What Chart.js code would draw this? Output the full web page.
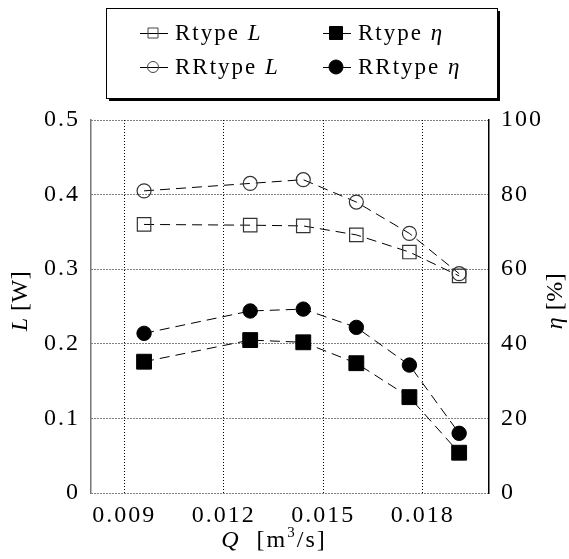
<!DOCTYPE html>
<html>
<head>
<meta charset="utf-8">
<script src="https://cdn.jsdelivr.net/npm/chart.js@4"></script>
<style>
html,body{margin:0;padding:0;background:#fff;}
#wrap{width:569px;height:559px;position:relative;}
</style>
</head>
<body>
<div id="wrap"><canvas id="c"></canvas></div>
<script>
// ---- data ----
const flowQ      = [0.0096, 0.0128, 0.0144, 0.0160, 0.0176, 0.0191];
const rtypeL     = [0.360, 0.359, 0.358, 0.346, 0.323, 0.291];
const rrtypeL    = [0.405, 0.415, 0.420, 0.390, 0.348, 0.294];
const rtypeEta   = [35.2, 41.0, 40.4, 34.8, 25.7, 10.8];
const rrtypeEta  = [42.8, 48.8, 49.3, 44.4, 34.3, 16.0];
const xTicks     = [0.009, 0.012, 0.015, 0.018];
const lTicks     = [0, 0.1, 0.2, 0.3, 0.4, 0.5];
const etaTicks   = [0, 20, 40, 60, 80, 100];

const SERIF = '"Liberation Serif", "Times New Roman", serif';
const pts = arr => flowQ.map((q,i)=>({x:q, y:arr[i]}));

function drawRuns(ctx, runs, x, y, align) {
  let total = 0;
  runs.forEach(r => { ctx.font = (r.italic?'italic ':'') + r.size + 'px ' + SERIF; r.w = ctx.measureText(r.t).width; total += r.w; });
  let cx = align === 'center' ? x - total/2 : x;
  runs.forEach(r => { ctx.font = (r.italic?'italic ':'') + r.size + 'px ' + SERIF; ctx.fillText(r.t, cx, y + (r.dy||0)); cx += r.w; });
}

const spacing = {
  id: 'spacing',
  beforeDraw(chart) { chart.ctx.letterSpacing = '2px'; },
  afterDatasetsDraw(chart) { chart.ctx.letterSpacing = '0px'; }
};

const decor = {
  id: 'decor',
  afterDraw(chart) {
    const ctx = chart.ctx;
    ctx.save();
    ctx.fillStyle = '#000';
    ctx.textBaseline = 'middle';
    ctx.textAlign = 'left';
    ctx.letterSpacing = '0.5px';
    // axis titles
    ctx.save();
    ctx.translate(21, 301);
    ctx.rotate(-Math.PI/2);
    drawRuns(ctx, [{t:'L', italic:true, size:24}, {t:' [W]', size:24}], 0, 0, 'center');
    ctx.restore();
    ctx.save();
    ctx.translate(556, 301);
    ctx.rotate(-Math.PI/2);
    drawRuns(ctx, [{t:'\u03B7', italic:true, size:24}, {t:' [%]', size:24}], 0, 0, 'center');
    ctx.restore();
    ctx.letterSpacing = '2px';
    drawRuns(ctx, [{t:'Q', italic:true, size:24}, {t:'  [m', size:24}, {t:'3', size:15, dy:-8}, {t:'/s]', size:24}], 274, 541, 'center');

    // legend box
    const bx = 106, by = 8, bw = 391, bh = 90;
    ctx.fillStyle = '#000';
    ctx.fillRect(bx+3, by+3, bw, bh);
    ctx.fillStyle = '#fff';
    ctx.fillRect(bx, by, bw, bh);
    ctx.strokeStyle = '#000';
    ctx.lineWidth = 1;
    ctx.strokeRect(bx+0.5, by+0.5, bw, bh);

    ctx.letterSpacing = '2px';
    const items = [
      {x:140, y:33, shape:'rect', fill:false, label:[{t:'Rtype ', size:23}, {t:'L', italic:true, size:23}]},
      {x:140, y:67, shape:'circle', fill:false, label:[{t:'RRtype ', size:23}, {t:'L', italic:true, size:23}]},
      {x:323, y:33, shape:'rect', fill:true, label:[{t:'Rtype ', size:23}, {t:'\u03B7', italic:true, size:23}]},
      {x:323, y:67, shape:'circle', fill:true, label:[{t:'RRtype ', size:23}, {t:'\u03B7', italic:true, size:23}]},
    ];
    items.forEach(it => {
      ctx.strokeStyle = '#000';
      ctx.lineWidth = 1;
      ctx.beginPath();
      ctx.moveTo(it.x, it.y+0.5); ctx.lineTo(it.x+28, it.y+0.5);
      ctx.stroke();
      const mx = it.x + 13, my = it.y;
      ctx.beginPath();
      if (it.shape === 'rect') {
        const s = it.fill ? 13 : 10;
        ctx.rect(mx - s/2, my - s/2, s, s);
      } else {
        ctx.arc(mx, my, it.fill ? 7 : 5.5, 0, Math.PI*2);
      }
      if (it.fill) { ctx.fillStyle = '#000'; ctx.fill(); }
      ctx.strokeStyle = it.fill ? '#000' : '#444';
      ctx.stroke();
      ctx.fillStyle = '#000';
      drawRuns(ctx, it.label, it.x + 35, it.y + 1, 'left');
    });
    ctx.restore();
  }
};

const lineCommon = {
  borderColor: '#000',
  borderWidth: 1,
  borderDash: [10, 6],
  showLine: true,
  tension: 0,
  fill: false,
};

new Chart(document.getElementById('c'), {
  type: 'scatter',
  data: {
    datasets: [
      Object.assign({}, lineCommon, {label:'Rtype L', data: pts(rtypeL), yAxisID:'yL',
        pointStyle:'rect', pointRadius:9.5, pointBackgroundColor:'rgba(0,0,0,0)', pointBorderColor:'#333', pointBorderWidth:1.2}),
      Object.assign({}, lineCommon, {label:'RRtype L', data: pts(rrtypeL), yAxisID:'yL',
        pointStyle:'circle', pointRadius:7, pointBackgroundColor:'rgba(0,0,0,0)', pointBorderColor:'#333', pointBorderWidth:1.2}),
      Object.assign({}, lineCommon, {label:'Rtype η', data: pts(rtypeEta), yAxisID:'yEta',
        pointStyle:'rect', pointRadius:10.5, pointBackgroundColor:'#000', pointBorderColor:'#000', pointBorderWidth:1}),
      Object.assign({}, lineCommon, {label:'RRtype η', data: pts(rrtypeEta), yAxisID:'yEta',
        pointStyle:'circle', pointRadius:7.2, pointBackgroundColor:'#000', pointBorderColor:'#000', pointBorderWidth:1}),
    ]
  },
  options: {
    responsive: true,
    maintainAspectRatio: false,
    animation: false,
    layout: { padding: { top: 120, left: 0, right: 0, bottom: 0 } },
    plugins: { legend: { display: false }, tooltip: { enabled: false } },
    scales: {
      x: {
        type: 'linear', min: 0.008, max: 0.020,
        afterBuildTicks: ax => { ax.ticks = xTicks.map(v => ({value: v})); },
        afterFit: ax => { ax.height = 66; },
        grid: { color: '#000', lineWidth: 1, drawTicks: false },
        border: { display: false, dash: [1, 2] },
        ticks: { color: '#000', padding: 8, font: { family: SERIF, size: 24 }, maxRotation: 0,
          callback: v => Number(v).toFixed(3) }
      },
      yL: {
        type: 'linear', position: 'left', min: 0, max: 0.5,
        afterBuildTicks: ax => { ax.ticks = lTicks.map(v => ({value: v})); },
        afterFit: ax => { ax.width = 91; },
        grid: { color: '#000', lineWidth: 1, drawTicks: false },
        border: { display: true, color: '#777', width: 1.5, dash: [1, 2] },
        ticks: { color: '#000', padding: 11, font: { family: SERIF, size: 24 },
          callback: v => String(Number(Number(v).toFixed(1))) }
      },
      yEta: {
        type: 'linear', position: 'right', min: 0, max: 100,
        afterBuildTicks: ax => { ax.ticks = etaTicks.map(v => ({value: v})); },
        afterFit: ax => { ax.width = 80; },
        grid: { display: false, drawTicks: false },
        border: { display: true, color: '#000', width: 1.5 },
        ticks: { color: '#000', padding: 12, font: { family: SERIF, size: 24 },
          callback: v => String(v) }
      }
    }
  },
  plugins: [spacing, decor]
});
</script>
</body>
</html>
